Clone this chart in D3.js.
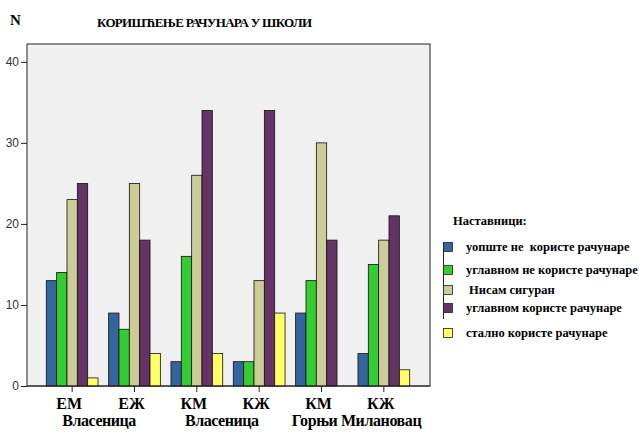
<!DOCTYPE html>
<html>
<head>
<meta charset="utf-8">
<script src="https://cdn.jsdelivr.net/npm/d3@7"></script>
<style>
	body { margin: 0; background: #fff; }
	svg { display: block; }
</style>
</head>
<body>
<div id="chart"></div>
<script>

var categories = ['ЕМ Власеница', 'ЕЖ Власеница', 'КМ Власеница', 'КЖ Власеница', 'КМ Горњи Милановац', 'КЖ Горњи Милановац'];
var labelTop = ['ЕМ', 'ЕЖ', 'КМ', 'КЖ', 'КМ', 'КЖ'];
var seriesNames = ['уопште не  користе рачунаре', 'углавном не користе рачунаре', 'Нисам сигуран', 'углавном користе рачунаре', 'стално користе рачунаре'];
var notUsing     = [13, 9, 3, 3, 9, 4];
var mostlyNot    = [14, 7, 16, 3, 13, 15];
var notSure      = [23, 25, 26, 13, 30, 18];
var mostlyUsing  = [25, 18, 34, 34, 18, 21];
var alwaysUsing  = [1, 4, 4, 9, 0, 2];
var yTicks = [0, 10, 20, 30, 40];

var series = [notUsing, mostlyNot, notSure, mostlyUsing, alwaysUsing];
var colors = ['#35659e', '#33cc33', '#cccc99', '#663366', '#ffff66'];

var w = 639, h = 437;
var svg = d3.select('#chart').append('svg')
	.attr('width', w)
	.attr('height', h);

// plot frame
var pLeft = 27, pRight = 430, pTop = 44, pBottom = 386;
svg.append('rect')
	.attr('x', pLeft).attr('y', pTop)
	.attr('width', pRight - pLeft).attr('height', pBottom - pTop)
	.attr('fill', '#f0f0f0')
	.attr('stroke', '#222')
	.attr('stroke-width', 1);

var x = d3.scaleBand()
	.domain(categories)
	.range([41, 415])
	.paddingInner(0.17)
	.paddingOuter(0.085);

var x1 = d3.scaleBand()
	.domain(d3.range(series.length))
	.range([0, x.bandwidth()]);

var y = d3.scaleLinear()
	.domain([0, 42.2])
	.range([pBottom, pTop]);

// y axis
var yAxis = svg.append('g')
	.attr('transform', 'translate(' + pLeft + ',0)')
	.call(d3.axisLeft(y).tickValues(yTicks).tickSize(6).tickPadding(2));
yAxis.select('.domain').remove();
yAxis.selectAll('line').attr('stroke', '#222');
yAxis.selectAll('text')
	.attr('fill', '#333')
	.style('font-family', '"Liberation Sans", Arial, sans-serif')
	.style('font-size', '12px');

// bars
var groups = svg.selectAll('g.group')
	.data(categories)
	.enter()
	.append('g')
	.attr('class', 'group')
	.attr('transform', function(d){ return 'translate(' + x(d) + ',0)'; });

groups.selectAll('rect')
	.data(function(d, i){ return series.map(function(s, j){ return {s: j, v: s[i]}; }).filter(function(d){ return d.v > 0; }); })
	.enter()
	.append('rect')
	.attr('x', function(d){ return x1(d.s); })
	.attr('y', function(d){ return y(d.v); })
	.attr('width', x1.bandwidth())
	.attr('height', function(d){ return y(0) - y(d.v); })
	.attr('fill', function(d){ return colors[d.s]; })
	.attr('stroke', '#111')
	.attr('stroke-width', 0.8);

// x axis line and ticks
var xAxis = svg.append('g')
	.attr('transform', 'translate(0,' + pBottom + ')')
	.call(d3.axisBottom(x).tickSize(6).tickFormat(''));
xAxis.select('.domain').attr('stroke', '#222').attr('d', 'M' + pLeft + ',0H' + pRight);
xAxis.selectAll('line').attr('stroke', '#222');

var serif = '"Liberation Serif", "DejaVu Serif", serif';

// category labels
svg.selectAll('text.cat')
	.data(labelTop)
	.enter()
	.append('text')
	.attr('class', 'cat')
	.attr('x', function(d, i){ return x(categories[i]) + x.bandwidth()/2 - 3; })
	.attr('y', 409)
	.attr('text-anchor', 'middle')
	.style('font-family', serif)
	.style('font-weight', 'bold')
	.style('font-size', '16px')
	.text(function(d){ return d; });

var secondLine = [
	{t: 'Власеница', x: (x(categories[0]) + x(categories[1]) + x.bandwidth())/2 - 4, len: 74},
	{t: 'Власеница', x: (x(categories[2]) + x(categories[3]) + x.bandwidth())/2 - 6, len: 74},
	{t: 'Горњи Милановац', x: (x(categories[4]) + x(categories[5]) + x.bandwidth())/2 + 4, len: 130}
];
svg.selectAll('text.cat2')
	.data(secondLine)
	.enter()
	.append('text')
	.attr('class', 'cat2')
	.attr('x', function(d){ return d.x; })
	.attr('y', 426)
	.attr('text-anchor', 'middle')
	.attr('textLength', function(d){ return d.len; })
	.style('font-family', serif)
	.style('font-weight', 'bold')
	.style('font-size', '16px')
	.text(function(d){ return d.t; });

// title and N
svg.append('text')
	.attr('x', 10).attr('y', 25)
	.style('font-family', serif).style('font-weight', 'bold').style('font-size', '15px')
	.text('N');
svg.append('text')
	.attr('x', 97).attr('y', 27)
	.attr('textLength', 215)
	.style('font-family', serif).style('font-weight', 'bold').style('font-size', '13px')
	.text('КОРИШЋЕЊЕ РАЧУНАРА У ШКОЛИ');

// legend
svg.append('text')
	.attr('x', 453).attr('y', 225)
	.style('font-family', serif).style('font-weight', 'bold').style('font-size', '12.5px')
	.text('Наставници:');

var legendY = [247, 270, 290, 308, 333];
var legendX = [466, 466, 469, 466, 466];

svg.append('line')
	.attr('x1', 443.5).attr('x2', 443.5)
	.attr('y1', 242).attr('y2', 319)
	.attr('stroke', '#222').attr('stroke-width', 1);

var items = svg.selectAll('g.legend')
	.data(seriesNames)
	.enter()
	.append('g')
	.attr('class', 'legend');

items.append('rect')
	.attr('x', 443.5)
	.attr('y', function(d, i){ return legendY[i] - 4.5; })
	.attr('width', 9).attr('height', 9)
	.attr('fill', function(d, i){ return colors[i]; })
	.attr('stroke', '#222').attr('stroke-width', 0.8);

items.append('text')
	.attr('x', function(d, i){ return legendX[i]; })
	.attr('y', function(d, i){ return legendY[i] + 4; })
	.style('font-family', serif).style('font-weight', 'bold').style('font-size', '12.5px')
	.style('white-space', 'pre')
	.text(function(d){ return d; });

</script>
</body>
</html>
